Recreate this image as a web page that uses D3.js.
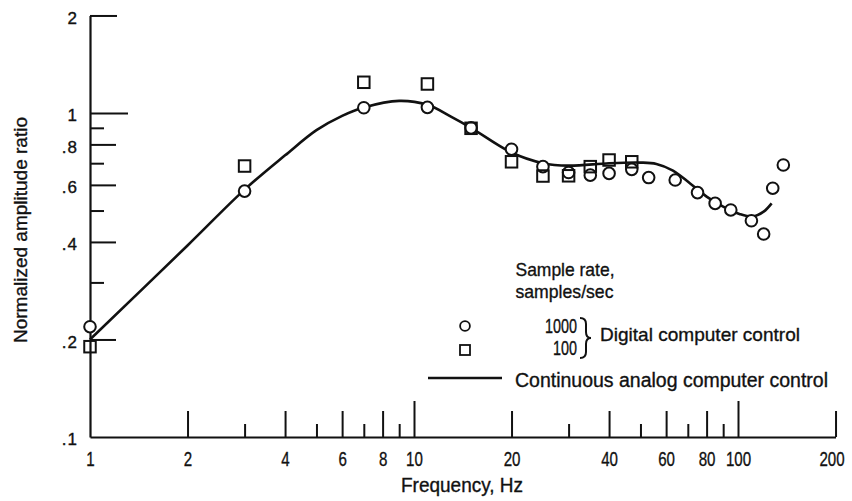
<!DOCTYPE html>
<html><head><meta charset="utf-8">
<script src="https://cdn.jsdelivr.net/npm/d3@7"></script>
<style>
body{margin:0;background:#fff}
svg{display:block}
text{font-family:"Liberation Sans",Arial,sans-serif;fill:#111;stroke:#111;stroke-width:0.35px}
</style></head>
<body><svg id="chart" width="852" height="501"></svg>
<script>
// ---- data ----
const curveHz  = [1, 2, 3, 4, 5, 6, 7, 9, 11, 13, 15, 20, 25, 30, 40, 50, 56, 63, 71, 80, 90, 101, 111, 120, 127];
const curveAmp = [0.200, 0.39, 0.58, 0.74, 0.885, 0.98, 1.04, 1.09, 1.06, 0.975, 0.90, 0.755, 0.70, 0.688, 0.700, 0.703, 0.696, 0.664, 0.607, 0.552, 0.514, 0.488, 0.479, 0.496, 0.526];

const circleHz  = [1, 3, 7, 11, 15, 20, 25, 30, 35, 40, 47, 53, 64, 75, 85, 95, 110, 120, 128, 138];
const circleAmp = [0.219, 0.574, 1.038, 1.041, 0.90, 0.773, 0.683, 0.655, 0.643, 0.651, 0.670, 0.632, 0.621, 0.568, 0.526, 0.502, 0.465, 0.423, 0.586, 0.691];

const squareHz  = [1, 3, 7, 11, 15, 20, 25, 30, 35, 40, 47];
const squareAmp = [0.190, 0.686, 1.244, 1.229, 0.897, 0.707, 0.639, 0.640, 0.683, 0.716, 0.707];

const xTickValues = [1, 2, 3, 4, 5, 6, 7, 8, 9, 10, 20, 30, 40, 50, 60, 70, 80, 90, 100, 200];
const xTickText   = ["1", "2", "", "4", "", "6", "", "8", "", "10", "20", "", "40", "", "60", "", "80", "", "100", "200"];
const yTickValues = [0.1, 0.2, 0.3, 0.4, 0.5, 0.6, 0.7, 0.8, 0.9, 1, 2];
const yTickText   = [".1", ".2", "", ".4", "", ".6", "", ".8", "", "1", "2"];

const xTitle = "Frequency, Hz";
const yTitle = "Normalized amplitude ratio";
const legendTitle = ["Sample rate,", "samples/sec"];
const legendRates = ["1000", "100"];
const legendDigital = "Digital computer control";
const legendAnalog = "Continuous analog computer control";

// ---- drawing ----
const svg = d3.select("#chart");
const ink = "#111";
const x = d3.scaleLog().domain([1, 200]).range([90, 90 + 324 * Math.log10(200)]);
const y = d3.scaleLog().domain([0.1, 2]).range([437, 437 - 324 * Math.log10(20)]);

// x axis (ticks pointing up)
const xa = svg.append("g").attr("transform", "translate(0,437)")
  .call(d3.axisBottom(x).tickValues(xTickValues).tickSizeInner(-26).tickSizeOuter(0).tickPadding(14)
        .tickFormat((d, i) => xTickText[i]));
xa.attr("font-family", null).attr("font-size", null);
xa.select(".domain").attr("stroke", ink).attr("stroke-width", 2.2);
xa.selectAll(".tick line").attr("stroke", ink).attr("stroke-width", 2)
  .attr("y2", d => {
    if (d === 1) return 0;
    if (d === 10 || d === 100) return -36;
    return [2,4,6,8,20,40,60,80,200].includes(d) ? -26 : -13;
  });
xa.selectAll(".tick text").style("font-size", "21px").attr("fill", ink)
  .attr("transform", d => d === 200 ? "translate(-4,0) scale(0.72,1)" : "scale(0.72,1)");

// y axis (ticks pointing right)
const ya = svg.append("g").attr("transform", "translate(90,0)")
  .call(d3.axisLeft(y).tickValues(yTickValues).tickSizeInner(-26).tickSizeOuter(0).tickPadding(12)
        .tickFormat((d, i) => yTickText[i]));
ya.attr("font-family", null).attr("font-size", null);
ya.select(".domain").attr("stroke", ink).attr("stroke-width", 2.2);
ya.selectAll(".tick line").attr("stroke", ink).attr("stroke-width", 2)
  .attr("x2", d => {
    if (d === 0.1) return 0;
    if (d === 1) return 38;
    if (d === 2) return 27;
    return [0.2,0.4,0.6,0.8].includes(d) ? 26 : 14;
  });
ya.selectAll(".tick text").style("font-size", "17px").attr("fill", ink)
  .attr("dy", "0.45em").style("letter-spacing", "1px");

// axis titles
svg.append("text").attr("x", 462).attr("y", 492).attr("text-anchor", "middle")
  .style("font-size", "20px").attr("textLength", 122).attr("lengthAdjust", "spacingAndGlyphs").text(xTitle);
svg.append("text").attr("transform", "translate(26.5,230) rotate(-90)").attr("text-anchor", "middle")
  .style("font-size", "19px").attr("textLength", 226).attr("lengthAdjust", "spacingAndGlyphs").text(yTitle);

// curve
const pts = curveHz.map((f, i) => [x(f), y(curveAmp[i])]);
svg.append("path").attr("d", d3.line().curve(d3.curveCatmullRom.alpha(0.5))(pts))
  .attr("fill", "none").attr("stroke", ink).attr("stroke-width", 2.6);

// circles (1000 samples/sec)
svg.append("g").selectAll("circle").data(circleHz).join("circle")
  .attr("cx", d => x(d)).attr("cy", (d, i) => y(circleAmp[i])).attr("r", 5.8)
  .attr("fill", "#fff").attr("stroke", ink).attr("stroke-width", 2);

// squares (100 samples/sec)
const sq = 11.5;
svg.append("g").selectAll("rect").data(squareHz).join("rect")
  .attr("x", d => x(d) - sq / 2).attr("y", (d, i) => y(squareAmp[i]) - sq / 2)
  .attr("width", sq).attr("height", sq)
  .attr("fill", "none").attr("stroke", ink).attr("stroke-width", 2);

// legend
const lg = svg.append("g");
const lt = [[legendTitle[0], 515.5, 276, 99], [legendTitle[1], 515.5, 298, 98]];
lt.forEach(t => lg.append("text").attr("x", t[1]).attr("y", t[2]).style("font-size", "19px")
  .attr("textLength", t[3]).attr("lengthAdjust", "spacingAndGlyphs").text(t[0]));
lg.append("circle").attr("cx", 465).attr("cy", 326).attr("r", 4.9)
  .attr("fill", "#fff").attr("stroke", ink).attr("stroke-width", 1.8);
lg.append("rect").attr("x", 460).attr("y", 345).attr("width", 10).attr("height", 10)
  .attr("fill", "none").attr("stroke", ink).attr("stroke-width", 1.8);
lg.append("text").attr("x", 577).attr("y", 333).attr("text-anchor", "end").style("font-size", "20px")
  .attr("textLength", 32).attr("lengthAdjust", "spacingAndGlyphs").text(legendRates[0]);
lg.append("text").attr("x", 577).attr("y", 355).attr("text-anchor", "end").style("font-size", "20px")
  .attr("textLength", 24).attr("lengthAdjust", "spacingAndGlyphs").text(legendRates[1]);
lg.append("path")
  .attr("d", "M580,318 Q586,318 586,324 L586,332 Q586,338 591,338 Q586,338 586,344 L586,352 Q586,358 580,358")
  .attr("fill", "none").attr("stroke", ink).attr("stroke-width", 2);
lg.append("text").attr("x", 600).attr("y", 341).style("font-size", "19px")
  .attr("textLength", 200).attr("lengthAdjust", "spacingAndGlyphs").text(legendDigital);
lg.append("line").attr("x1", 428).attr("x2", 502).attr("y1", 378).attr("y2", 378)
  .attr("stroke", ink).attr("stroke-width", 2.6);
lg.append("text").attr("x", 515).attr("y", 387).style("font-size", "20px")
  .attr("textLength", 313).attr("lengthAdjust", "spacingAndGlyphs").text(legendAnalog);
</script>
</body></html>
